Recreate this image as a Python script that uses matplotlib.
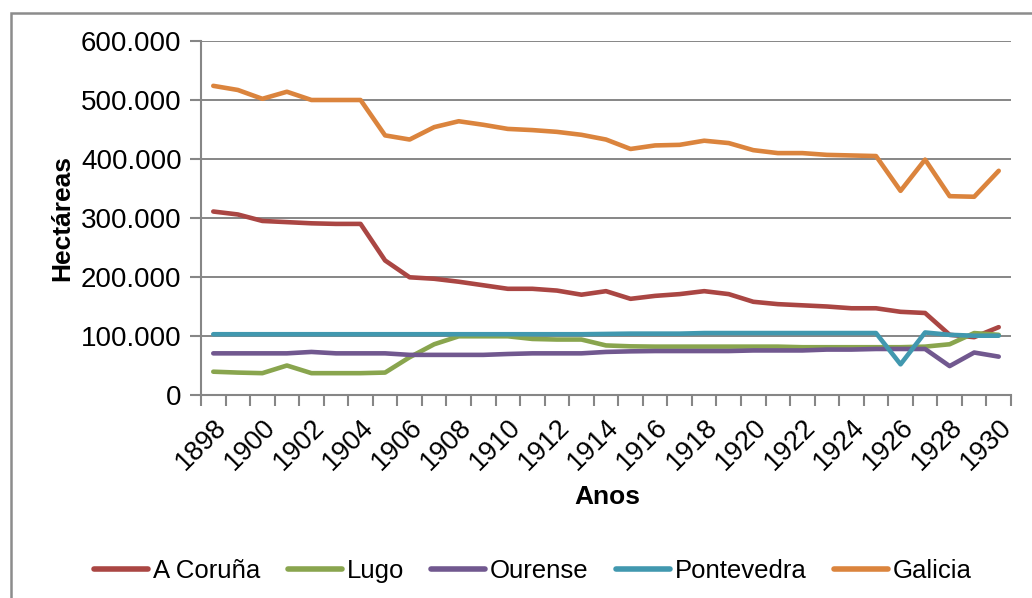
import matplotlib
matplotlib.use("Agg")
import matplotlib.pyplot as plt
from matplotlib.ticker import FuncFormatter, FixedLocator
from matplotlib.patches import Rectangle

years = list(range(1898, 1931))

a_coruna = [311000, 306000, 295000, 293000, 291000, 290000, 290000, 228000, 199500, 197000,
            192000, 186000, 180000, 180000, 177000, 170000, 176000, 163000, 168000, 171000,
            176000, 171000, 158000, 154000, 152000, 150000, 147000, 147000, 141000, 139000,
            102000, 98000, 115000]
lugo = [39500, 38000, 37000, 50000, 37000, 37000, 37000, 38000, 64000, 86000,
        99500, 99500, 99500, 95000, 94000, 94000, 84000, 82500, 82000, 82000,
        82000, 82000, 82000, 82000, 81000, 81000, 81000, 81000, 81000, 82000,
        86000, 105000, 102000]
ourense = [70600, 70600, 70600, 70600, 73000, 70600, 70600, 70600, 68000, 68000,
           68000, 68000, 69500, 70600, 70600, 70600, 73000, 74000, 74500, 74500,
           74500, 74500, 75500, 75500, 75500, 77000, 77000, 78000, 78000, 78000,
           49000, 72000, 65000]
pontevedra = [103000, 103000, 103000, 103000, 103000, 103000, 103000, 103000, 103000, 103000,
              103000, 103000, 103000, 103000, 103000, 103000, 103500, 104000, 104000, 104000,
              105000, 105000, 105000, 105000, 105000, 105000, 105000, 105000, 52000, 106000,
              102000, 100500, 100500]
galicia = [524000, 517000, 502000, 514000, 500000, 500000, 500000, 440000, 433000, 454000,
           464000, 458000, 451000, 449000, 446000, 441000, 433000, 417000, 423000, 424000,
           431000, 427000, 415000, 410000, 410000, 407000, 406000, 405000, 346000, 399000,
           337000, 336000, 380000]

series_names = ["A Coruña", "Lugo", "Ourense", "Pontevedra", "Galicia"]
series_values = [a_coruna, lugo, ourense, pontevedra, galicia]
colors = ["#AA4643", "#89A54E", "#71588F", "#4198AF", "#DB843D"]

plt.rcParams['font.family'] = ['Liberation Sans', 'DejaVu Sans']

W, H = 1032, 598
fig = plt.figure(figsize=(W / 100, H / 100), dpi=100)
fig.patch.set_facecolor("white")

# outer frame
fig.patches.append(Rectangle((11 / W, -0.1), 1.2, 1 - 13 / H + 0.1, transform=fig.transFigure,
                             fill=False, edgecolor="#8c8c8c", linewidth=1.8))

left, right, top, bottom = 201, 1011, 41, 395
ax = fig.add_axes([left / W, 1 - bottom / H, (right - left) / W, (bottom - top) / H])

x = list(range(len(years)))
for name, vals, c in zip(series_names, series_values, colors):
    ax.plot(x, vals, color=c, linewidth=3.3, label=name, solid_capstyle="round",
            solid_joinstyle="round")

ax.set_xlim(-0.5, len(years) - 0.5)
ax.set_ylim(0, 600000)
ax.set_yticks(range(0, 600001, 100000))
ax.yaxis.set_major_formatter(FuncFormatter(lambda v, p: f"{int(v):,}".replace(",", ".")))

label_idx = [i for i, y in enumerate(years) if (y - 1898) % 2 == 0]
ax.set_xticks(label_idx)
ax.set_xticklabels([str(years[i]) for i in label_idx], rotation=45, ha="right",
                   rotation_mode="anchor", fontsize=19.5)
ax.xaxis.set_minor_locator(FixedLocator([i - 0.5 for i in range(len(years) + 1)]))
ax.tick_params(axis="x", which="major", length=0, pad=14)
ax.tick_params(axis="x", which="minor", length=8, width=1.5, color="#868686", direction="out")
ax.tick_params(axis="y", length=8, width=1.5, color="#868686", direction="out", labelsize=20, pad=6)

ax.grid(axis="y", color="#868686", linewidth=1.4)
ax.set_axisbelow(True)
for s in ["top", "right"]:
    ax.spines[s].set_visible(False)
for s in ["left", "bottom"]:
    ax.spines[s].set_color("#868686")
    ax.spines[s].set_linewidth(1.5)

fig.text(62 / W, 1 - 218 / H, "Hectáreas", rotation=90, ha="center", va="center",
         fontsize=19, fontweight="bold")
fig.text(607 / W, 1 - 497 / H, "Anos", ha="center", va="center", fontsize=19, fontweight="bold")

leg = fig.legend(loc="center", bbox_to_anchor=(533 / W, 1 - 571 / H), ncol=5, frameon=False,
                 fontsize=18.5, handlelength=2.1, handletextpad=0.2, columnspacing=1.05)
for ln in leg.get_lines():
    ln.set_linewidth(4)

fig.savefig("out.png", dpi=100, facecolor="white")
